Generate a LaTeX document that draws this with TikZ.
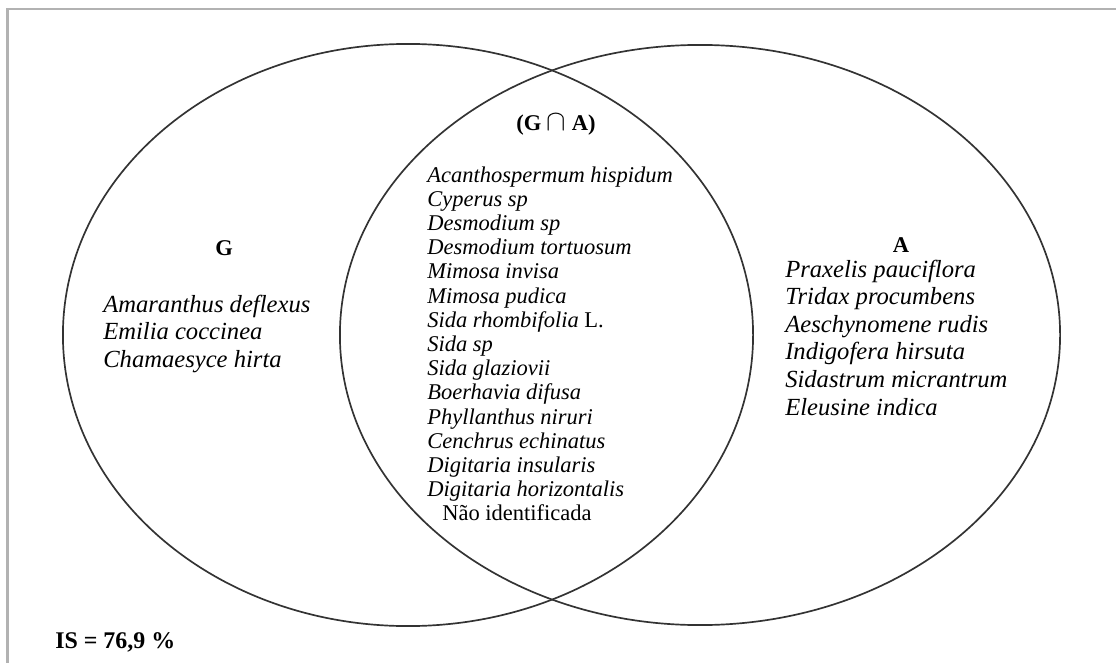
\documentclass[tikz,border=0pt]{standalone}
\usepackage{fontspec}
\setmainfont{Liberation Serif}
\usetikzlibrary{shapes, positioning}

\begin{document}
\begin{tikzpicture}[x=0.025cm, y=-0.025cm,
  blob/.style={ellipse, draw=black!80, line width=1.2pt, inner sep=0pt},
  heading/.style={anchor=base, inner sep=0pt, font=\bfseries\fontsize{16pt}{18pt}\selectfont},
  species/.style={anchor=base west, inner sep=0pt, font=\itshape\fontsize{16pt}{17pt}\selectfont},
  sidespecies/.style={anchor=base west, inner sep=0pt, font=\itshape\fontsize{17.5pt}{19pt}\selectfont}]

  \useasboundingbox (0,0) rectangle (1116,663);

  % Frame
  \draw[gray!60, line width=1.5pt] (7.5,663) -- (7.5,9) -- (1116,9);

  % Left blob
  \node (blobG) [blob, minimum width=17.25cm, minimum height=14.55cm] at (408,335) {};

  % Right blob
  \node (blobA) [blob, minimum width=18cm, minimum height=14.5cm] at (700,335) {};

  % Headings
  \node (labelG) [heading] at (224,255) {G};
  \node (labelA) [heading] at (901,252) {A};
  \node (labelGA) [heading] at (556,131) {(G {\fontsize{21pt}{21pt}\selectfont$\cap$} A)};

  % Species in G only
  \foreach \sp [count=\i] in {Amaranthus deflexus, Emilia coccinea, Chamaesyce hirta}
    \node (onlyG\i) [sidespecies] at (103,{284.5+27.5*\i}) {\sp};

  % Species in both
  \foreach \sp [count=\i] in {Acanthospermum hispidum, Cyperus sp, Desmodium sp,
      Desmodium tortuosum, Mimosa invisa, Mimosa pudica, Sida rhombifolia \textup{L.},
      Sida sp, Sida glaziovii, Boerhavia difusa, Phyllanthus niruri, Cenchrus echinatus,
      Digitaria insularis, Digitaria horizontalis}
    \node (both\i) [species] at (427,{157.8+24.2*\i}) {\sp};
  \node (both15) [species, font=\upshape\fontsize{16pt}{17pt}\selectfont] at (442,520.8) {Não identificada};

  % Species in A only
  \foreach \sp [count=\i] in {Praxelis pauciflora, Tridax procumbens, Aeschynomene rudis,
      Indigofera hirsuta, Sidastrum micrantrum, Eleusine indica}
    \node (onlyA\i) [sidespecies] at (785,{249.5+27.6*\i}) {\sp};

  % Similarity index
  \node (simindex) [heading, anchor=base west, font=\bfseries\fontsize{17pt}{18pt}\selectfont] at (55,648) {IS = 76,9 \%};

\end{tikzpicture}
\end{document}
